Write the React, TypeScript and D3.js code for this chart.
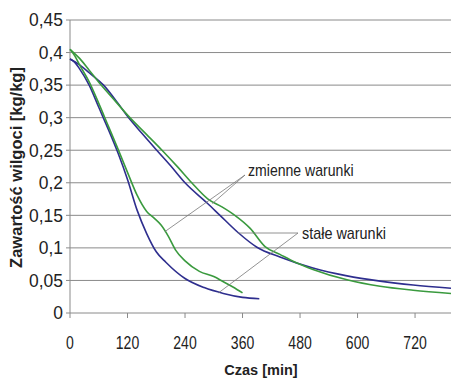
import React from 'react';
import * as d3 from 'd3';

// [time in min, moisture kg/kg]
const stableFast: [number, number][] = [
  [0, 0.39], [10, 0.385], [20, 0.375], [40, 0.35], [60, 0.316], [80, 0.282], [100, 0.246],
  [120, 0.205], [140, 0.158], [160, 0.122], [180, 0.094], [200, 0.078], [240, 0.053],
  [280, 0.039], [320, 0.03], [360, 0.024], [395, 0.022],
];
const variableFast: [number, number][] = [
  [0, 0.405], [10, 0.395], [20, 0.381], [40, 0.355], [60, 0.322], [80, 0.287], [100, 0.252],
  [120, 0.216], [140, 0.181], [160, 0.156], [175, 0.146], [190, 0.135], [205, 0.118],
  [220, 0.097], [240, 0.08], [270, 0.064], [300, 0.056], [320, 0.048], [340, 0.04], [360, 0.031],
];
const stableSlow: [number, number][] = [
  [0, 0.39], [20, 0.381], [40, 0.369], [70, 0.35], [100, 0.322], [120, 0.302], [150, 0.276],
  [181, 0.25], [210, 0.226], [240, 0.2], [286, 0.169], [313, 0.15], [350, 0.124], [390, 0.101],
  [438, 0.086], [507, 0.069], [578, 0.057], [647, 0.049], [716, 0.043], [795, 0.038],
];
const variableSlow: [number, number][] = [
  [0, 0.405], [20, 0.391], [40, 0.373], [65, 0.35], [95, 0.325], [125, 0.3], [160, 0.274],
  [192, 0.25], [225, 0.224], [254, 0.2], [288, 0.175], [317, 0.163], [344, 0.15], [376, 0.13],
  [407, 0.102], [438, 0.09], [470, 0.078], [507, 0.067], [578, 0.051], [647, 0.041],
  [716, 0.035], [795, 0.03],
];

const xTicks = [0, 120, 240, 360, 480, 600, 720];
const yTicks = [0, 0.05, 0.1, 0.15, 0.2, 0.25, 0.3, 0.35, 0.4, 0.45];

const width = 451;
const height = 379;
const margin = { top: 20, right: 0, bottom: 66, left: 70 };

const blue = '#2e2e8e';
const green = '#3a9a3e';
const font = "'Liberation Sans', Arial, sans-serif";

// squeezed text, like the narrow font of the original
function Narrow({ x, y, sx, size, anchor, children }: {
  x: number; y: number; sx: number; size: number; anchor?: string; children: React.ReactNode;
}) {
  return (
    <text
      transform={`translate(${x},${y}) scale(${sx},1)`}
      dy="0.35em"
      textAnchor={anchor ?? 'start'}
      fontFamily={font}
      fontSize={size}
      fill="#222"
    >
      {children}
    </text>
  );
}

function App() {
  const x = d3.scaleLinear().domain([0, 795]).range([margin.left, width - margin.right]);
  const y = d3.scaleLinear().domain([0, 0.45]).range([height - margin.bottom, margin.top]);

  const line = d3
    .line<[number, number]>()
    .x(d => x(d[0]))
    .y(d => y(d[1]))
    .curve(d3.curveMonotoneX);

  const fmt = (v: number) => String(+v.toFixed(2)).replace('.', ',');
  const y0 = y(0);

  return (
    <svg width={width} height={height} style={{ position: 'absolute', left: 0, top: 0, background: '#fff' }}>
      {yTicks.slice(1).map(t => (
        <line key={t} x1={x(0)} x2={width} y1={y(t)} y2={y(t)} stroke="#8a8a8a" strokeWidth={1} />
      ))}
      <line x1={x(0)} x2={x(0)} y1={y(0.45)} y2={y0} stroke="#8a8a8a" />
      <line x1={x(0)} x2={width} y1={y0} y2={y0} stroke="#8a8a8a" />
      {yTicks.map(t => (
        <g key={t}>
          <line x1={x(0) - 4} x2={x(0)} y1={y(t)} y2={y(t)} stroke="#8a8a8a" />
          <Narrow x={63} y={y(t)} sx={0.97} size={18} anchor="end">{fmt(t)}</Narrow>
        </g>
      ))}
      {xTicks.map(t => (
        <g key={t}>
          <line x1={x(t)} x2={x(t)} y1={y0} y2={y0 + 5} stroke="#8a8a8a" />
          <Narrow x={x(t)} y={343} sx={0.78} size={18} anchor="middle">{t}</Narrow>
        </g>
      ))}

      <path d={line(stableSlow) ?? ''} fill="none" stroke={blue} strokeWidth={1.6} />
      <path d={line(variableSlow) ?? ''} fill="none" stroke={green} strokeWidth={1.6} />
      <path d={line(stableFast) ?? ''} fill="none" stroke={blue} strokeWidth={1.6} />
      <path d={line(variableFast) ?? ''} fill="none" stroke={green} strokeWidth={1.6} />

      {/* zmienne warunki */}
      <line x1={245} y1={175} x2={x(198)} y2={y(0.125)} stroke="#777" strokeWidth={0.8} />
      <line x1={245} y1={175} x2={x(297)} y2={y(0.168)} stroke="#777" strokeWidth={0.8} />
      <Narrow x={248} y={170} sx={0.88} size={16}>zmienne warunki</Narrow>

      {/* stałe warunki */}
      <line x1={298} y1={233} x2={x(350)} y2={233} stroke="#777" strokeWidth={0.8} />
      <line x1={298} y1={233} x2={x(310)} y2={y(0.031)} stroke="#777" strokeWidth={0.8} />
      <Narrow x={302} y={233} sx={0.9} size={16}>stałe warunki</Narrow>

      <text
        transform={`translate(16,${(margin.top + y0) / 2 + 1}) rotate(-90)`}
        textAnchor="middle"
        dy="0.35em"
        fontFamily={font}
        fontWeight="bold"
        fontSize={16.5}
        fill="#222"
      >
        Zawartość wilgoci [kg/kg]
      </text>
      <text x={261} y={370} dy="0.35em" textAnchor="middle" fontFamily={font} fontWeight="bold" fontSize={14.5} fill="#222">
        Czas [min]
      </text>
    </svg>
  );
}

export default App;
